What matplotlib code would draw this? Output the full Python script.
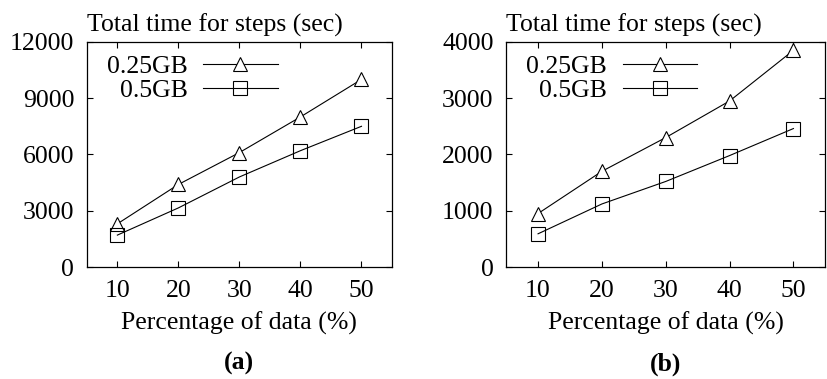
import numpy as np
import matplotlib.pyplot as plt

plt.rcParams['font.family'] = ['Liberation Serif', 'DejaVu Serif']

# data
pct = [10, 20, 30, 40, 50]
a_025 = [2300, 4400, 6100, 8000, 10000]
a_05 = [1700, 3150, 4800, 6200, 7500]
b_025 = [950, 1700, 2300, 2950, 3850]
b_05 = [590, 1120, 1520, 1980, 2460]
a_yticks = [0, 3000, 6000, 9000, 12000]
b_yticks = [0, 1000, 2000, 3000, 4000]
series_labels = ['0.25GB', '0.5GB']
captions = ['(a)', '(b)']

fs = 18.5
fig = plt.figure(figsize=(8.27, 3.79), dpi=100)
ax_a = fig.add_axes([0.105, 0.2955, 0.369, 0.594])
ax_b = fig.add_axes([0.612, 0.2955, 0.386, 0.594])

panels = [(ax_a, a_025, a_05, a_yticks), (ax_b, b_025, b_05, b_yticks)]
for i, (ax, y1, y2, yt) in enumerate(panels):
    ax.plot(pct, y1, '-^', color='black', lw=0.8, ms=10, mfc='white',
            mec='black', mew=0.8, label=series_labels[0])
    ax.plot(pct, y2, '-s', color='black', lw=0.8, ms=10, mfc='none',
            mec='black', mew=0.8, label=series_labels[1])
    ax.set_xlim(5, 55)
    ax.set_ylim(yt[0], yt[-1])
    ax.set_xticks(pct)
    ax.set_yticks(yt)
    ax.tick_params(direction='in', length=4, width=0.8, top=True, right=True,
                   labelsize=fs, pad=9)
    for sp in ax.spines.values():
        sp.set_linewidth(0.9)
    ax.set_xlabel('Percentage of data (%)', fontsize=fs, labelpad=7)
    ax.text(0.0, 1.02, 'Total time for steps (sec)', transform=ax.transAxes,
            ha='left', va='bottom', fontsize=fs)
    ax.legend(loc='upper left', bbox_to_anchor=(0.007, 1.022), frameon=False,
              markerfirst=False, fontsize=fs, handlelength=2.9,
              handletextpad=0.6, labelspacing=0.05, borderpad=0.2)
    pos = ax.get_position()
    fig.text((pos.x0 + pos.x1) / 2, 0.04, captions[i], ha='center',
             va='center', fontsize=fs, fontweight='bold')

fig.savefig('out.png', dpi=100)
